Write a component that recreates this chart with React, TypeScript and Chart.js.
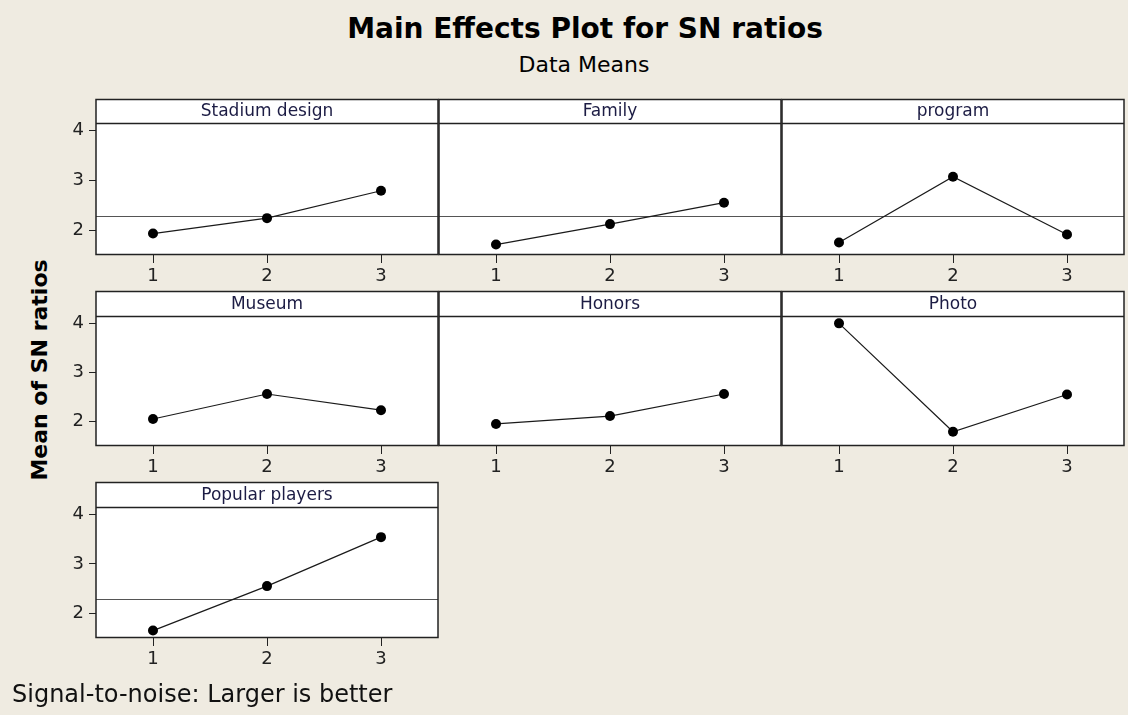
import React, { useEffect, useRef } from 'react';
import { Chart, registerables } from 'chart.js';

Chart.register(...registerables);

// ---- data ----
const levels = ['1', '2', '3'];
const yTickValues = [2, 3, 4];
const factorNames = ['Stadium design', 'Family', 'program', 'Museum', 'Honors', 'Photo', 'Popular players'];
const stadiumDesign = [1.93, 2.24, 2.79];
const family = [1.71, 2.12, 2.55];
const program = [1.75, 3.07, 1.91];
const museum = [2.05, 2.56, 2.23];
const honors = [1.95, 2.11, 2.56];
const photo = [4.0, 1.79, 2.55];
const popularPlayers = [1.65, 2.55, 3.54];
const grandMean = 2.29;
const yMin = 1.5;
const yMax = 4.15;

const seriesList = [stadiumDesign, family, program, museum, honors, photo, popularPlayers];

// ---- layout ----
const colLeft = [96, 439, 782];
const colRight = [439, 782, 1125];
const rowTop = [99, 291, 482];
const rowHeaderBottom = [123, 316, 507];
const rowBottom = [255, 446, 638];
const meanLineRows = [true, false, true];

const FONT = '"DejaVu Sans", Verdana, sans-serif';
const AXW = 70;
const AXH = 35;
const PADR = 4;
const PADT = 2;

type PanelProps = { title: string; values: number[]; col: number; row: number };

function Panel({ title, values, col, row }: PanelProps) {
  const ref = useRef<HTMLCanvasElement>(null);
  const L = colLeft[col];
  const R = colRight[col];
  const T = rowTop[row];
  const H = rowHeaderBottom[row];
  const B = rowBottom[row];
  const width = R - L + AXW + PADR;
  const height = B - T + PADT + AXH;
  const showY = col === 0;

  useEffect(() => {
    const headerH = H - T;
    const deco = {
      id: 'panelDeco',
      beforeDraw(chart: any) {
        const { ctx, chartArea: ca } = chart;
        const top = ca.top - headerH;
        ctx.save();
        ctx.fillStyle = '#ffffff';
        ctx.fillRect(ca.left, top, ca.right - ca.left, ca.bottom - top);
        ctx.fillStyle = '#1c1c44';
        ctx.font = '17px ' + FONT;
        ctx.textAlign = 'center';
        ctx.textBaseline = 'middle';
        ctx.fillText(title, (ca.left + ca.right) / 2, top + headerH / 2 + 1);
        ctx.restore();
      },
      beforeDatasetsDraw(chart: any) {
        if (!meanLineRows[row]) return;
        const { ctx, chartArea: ca, scales } = chart;
        const y = Math.round(scales.y.getPixelForValue(grandMean)) + 0.5;
        ctx.save();
        ctx.strokeStyle = '#555555';
        ctx.lineWidth = 1;
        ctx.beginPath();
        ctx.moveTo(ca.left, y);
        ctx.lineTo(ca.right, y);
        ctx.stroke();
        ctx.restore();
      },
      afterDatasetsDraw(chart: any) {
        const { ctx, chartArea: ca } = chart;
        const top = ca.top - headerH;
        ctx.save();
        ctx.strokeStyle = '#222222';
        ctx.lineWidth = 1.5;
        ctx.strokeRect(ca.left, top + 0.5, ca.right - ca.left, ca.bottom - top - 1);
        ctx.beginPath();
        ctx.moveTo(ca.left, ca.top + 0.5);
        ctx.lineTo(ca.right, ca.top + 0.5);
        ctx.stroke();
        ctx.restore();
      },
    };

    const chart = new Chart(ref.current as HTMLCanvasElement, {
      type: 'line',
      data: {
        labels: levels,
        datasets: [
          {
            data: values,
            borderColor: '#1a1a1a',
            borderWidth: 1.2,
            pointRadius: 5,
            pointHoverRadius: 5,
            pointBackgroundColor: '#000000',
            pointBorderColor: '#000000',
            pointBorderWidth: 0,
            tension: 0,
            clip: false as any,
          },
        ],
      },
      options: {
        animation: false,
        responsive: false,
        devicePixelRatio: 1,
        layout: { padding: { top: headerH + PADT, right: PADR, left: 0, bottom: 0 } },
        plugins: { legend: { display: false }, tooltip: { enabled: false }, title: { display: false } },
        events: [],
        scales: {
          x: {
            type: 'category',
            offset: true,
            grid: { display: true, drawOnChartArea: false, drawTicks: true, tickLength: 8, color: '#222222', offset: false },
            border: { display: false },
            ticks: { color: '#222222', font: { family: FONT, size: 18 }, padding: 3, maxRotation: 0 },
            afterFit: (s: any) => {
              s.height = AXH;
            },
          },
          y: {
            type: 'linear',
            min: yMin,
            max: yMax,
            afterBuildTicks: (s: any) => {
              s.ticks = yTickValues.map((v) => ({ value: v }));
            },
            grid: { display: showY, drawOnChartArea: false, drawTicks: true, tickLength: 7, color: '#222222' },
            border: { display: false },
            ticks: { display: showY, color: '#222222', font: { family: FONT, size: 18 }, padding: 5 },
            afterFit: (s: any) => {
              s.width = AXW;
            },
          },
        },
      },
      plugins: [deco],
    });
    return () => chart.destroy();
  }, []);

  return (
    <canvas
      ref={ref}
      width={width}
      height={height}
      style={{ position: 'absolute', left: L - AXW, top: T - PADT, width, height }}
    />
  );
}

export default function App() {
  return (
    <div
      style={{
        position: 'relative',
        width: 1128,
        height: 715,
        background: '#efebe1',
        overflow: 'hidden',
        fontFamily: FONT,
        color: '#000',
      }}
    >
      <style>{'body{margin:0}'}</style>
      <div
        style={{
          position: 'absolute',
          left: 0,
          width: 1170,
          top: 15,
          fontSize: 28,
          lineHeight: '28px',
          fontWeight: 'bold',
          textAlign: 'center',
        }}
      >
        Main Effects Plot for SN ratios
      </div>
      <div
        style={{ position: 'absolute', left: 0, width: 1168, top: 54, fontSize: 22, lineHeight: '22px', textAlign: 'center' }}
      >
        Data Means
      </div>
      <div
        style={{
          position: 'absolute',
          left: 40 - 160,
          top: 370 - 11,
          width: 320,
          fontSize: 22,
          lineHeight: '22px',
          fontWeight: 'bold',
          textAlign: 'center',
          transform: 'rotate(-90deg)',
          transformOrigin: '50% 50%',
        }}
      >
        Mean of SN ratios
      </div>
      {factorNames.map((name, i) => (
        <Panel key={name} title={name} values={seriesList[i]} col={i % 3} row={Math.floor(i / 3)} />
      ))}
      <div style={{ position: 'absolute', left: 12, top: 682, fontSize: 24, lineHeight: '24px', color: '#111' }}>
        Signal-to-noise: Larger is better
      </div>
    </div>
  );
}
